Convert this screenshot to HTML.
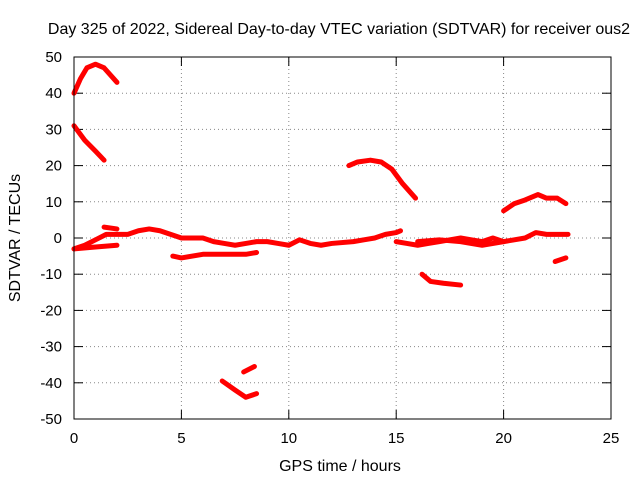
<!DOCTYPE html>
<html><head><meta charset="utf-8"><style>
body{margin:0;background:#fff}
svg{display:block;font-family:"Liberation Sans",sans-serif}
</style></head><body>
<svg id="chart" width="640" height="480" viewBox="0 0 640 480">
<rect width="640" height="480" fill="#fff"/>
<text x="339" y="34" font-size="16" text-anchor="middle">Day 325 of 2022, Sidereal Day-to-day VTEC variation (SDTVAR) for receiver ous2</text>
<text x="340" y="471" font-size="16" text-anchor="middle">GPS time / hours</text>
<text transform="translate(20,238) rotate(-90)" font-size="16" text-anchor="middle">SDTVAR / TECUs</text>
<g id="grid"></g><g id="ticks"></g><g id="series"></g>
<rect x="74" y="57" width="537" height="362" fill="none" stroke="#000" stroke-width="1"/>
</svg>
<script>
const xTicks=[0,5,10,15,20,25];
const yTicks=[-50,-40,-30,-20,-10,0,10,20,30,40,50];
const segA=[[0,40],[0.3,44],[0.6,47],[1,48],[1.4,47],[2,43]];
const segB=[[0,31],[0.5,27],[1,24],[1.4,21.5]];
const segC=[[12.8,20],[13.2,21],[13.8,21.5],[14.3,21],[14.8,19],[15.3,15],[15.9,11]];
const segD=[[20,7.5],[20.5,9.5],[21,10.5],[21.6,12],[22,11],[22.5,11],[22.9,9.5]];
const segE=[[16.2,-10],[16.6,-12],[17.2,-12.5],[18,-13]];
const segF=[[22.4,-6.5],[22.9,-5.5]];
const segG=[[4.6,-5],[5,-5.5],[6,-4.5],[7,-4.5],[8,-4.5],[8.5,-4]];
const segH=[[6.9,-39.5],[7.5,-42],[8,-44],[8.5,-43]];
const segI=[[7.9,-37],[8.4,-35.5]];
const segJ=[[0,-3],[0.5,-2],[1,-0.5],[1.5,1],[2,1],[2.5,1],[3,2],[3.5,2.5],[4,2],[4.5,1],[5,0],[6,0],[6.5,-1],[7,-1.5],[7.5,-2],[8,-1.5],[8.5,-1],[9,-1],[9.5,-1.5],[10,-2],[10.5,-0.5],[11,-1.5],[11.5,-2],[12,-1.5],[13,-1],[13.5,-0.5],[14,0],[14.5,1],[15,1.5],[15.2,2]];
const segK=[[0,-3],[1,-2.5],[2,-2]];
const segL=[[15,-1],[15.5,-1.5],[16,-2],[16.5,-1.5],[17,-1],[17.5,-0.5],[18,0],[18.5,-0.5],[19,-1],[19.5,0],[20,-1],[20.5,-0.5],[21,0],[21.5,1.5],[22,1],[22.5,1],[23,1]];
const segM=[[16,-1],[17,-0.5],[18,-1],[19,-2],[20,-1]];
const segN=[[1.4,3],[2,2.5]];
const allSegs=[segA,segB,segC,segD,segE,segF,segG,segH,segI,segJ,segK,segL,segM,segN];
const X=v=>74+v/25*537, Y=v=>238-v*3.62;
const NS="http://www.w3.org/2000/svg";
const grid=document.getElementById('grid'),ticks=document.getElementById('ticks'),ser=document.getElementById('series');
function mk(t,a,p){const e=document.createElementNS(NS,t);for(const k in a)e.setAttribute(k,a[k]);p.appendChild(e);return e;}
xTicks.forEach(v=>{
 const g=mk('line',{x1:X(v),x2:X(v),y1:57,y2:419,stroke:'#888','stroke-dasharray':'1,3','stroke-width':1},grid);
 
 
 mk('line',{x1:X(v),x2:X(v),y1:419,y2:410,stroke:'#000'},ticks);
 mk('line',{x1:X(v),x2:X(v),y1:57,y2:66,stroke:'#000'},ticks);
 const t=mk('text',{x:X(v),y:443,'font-size':15,'text-anchor':'middle'},ticks);t.textContent=v;
 
 
});
yTicks.forEach(v=>{
 const g=mk('line',{x1:74,x2:611,y1:Y(v),y2:Y(v),stroke:'#888','stroke-dasharray':'1,3','stroke-width':1},grid);
 
 
 mk('line',{x1:74,x2:83,y1:Y(v),y2:Y(v),stroke:'#000'},ticks);
 mk('line',{x1:602,x2:611,y1:Y(v),y2:Y(v),stroke:'#000'},ticks);
 const t=mk('text',{x:62,y:Y(v)+5,'font-size':15,'text-anchor':'end'},ticks);t.textContent=v;
 
 
});
allSegs.forEach(s=>{
 const p=mk('polyline',{points:s.map(d=>X(d[0])+','+Y(d[1])).join(' '),fill:'none',stroke:'#f00','stroke-width':5,'stroke-linejoin':'round','stroke-linecap':'round'},ser);
 
 
});
</script>
</body></html>
